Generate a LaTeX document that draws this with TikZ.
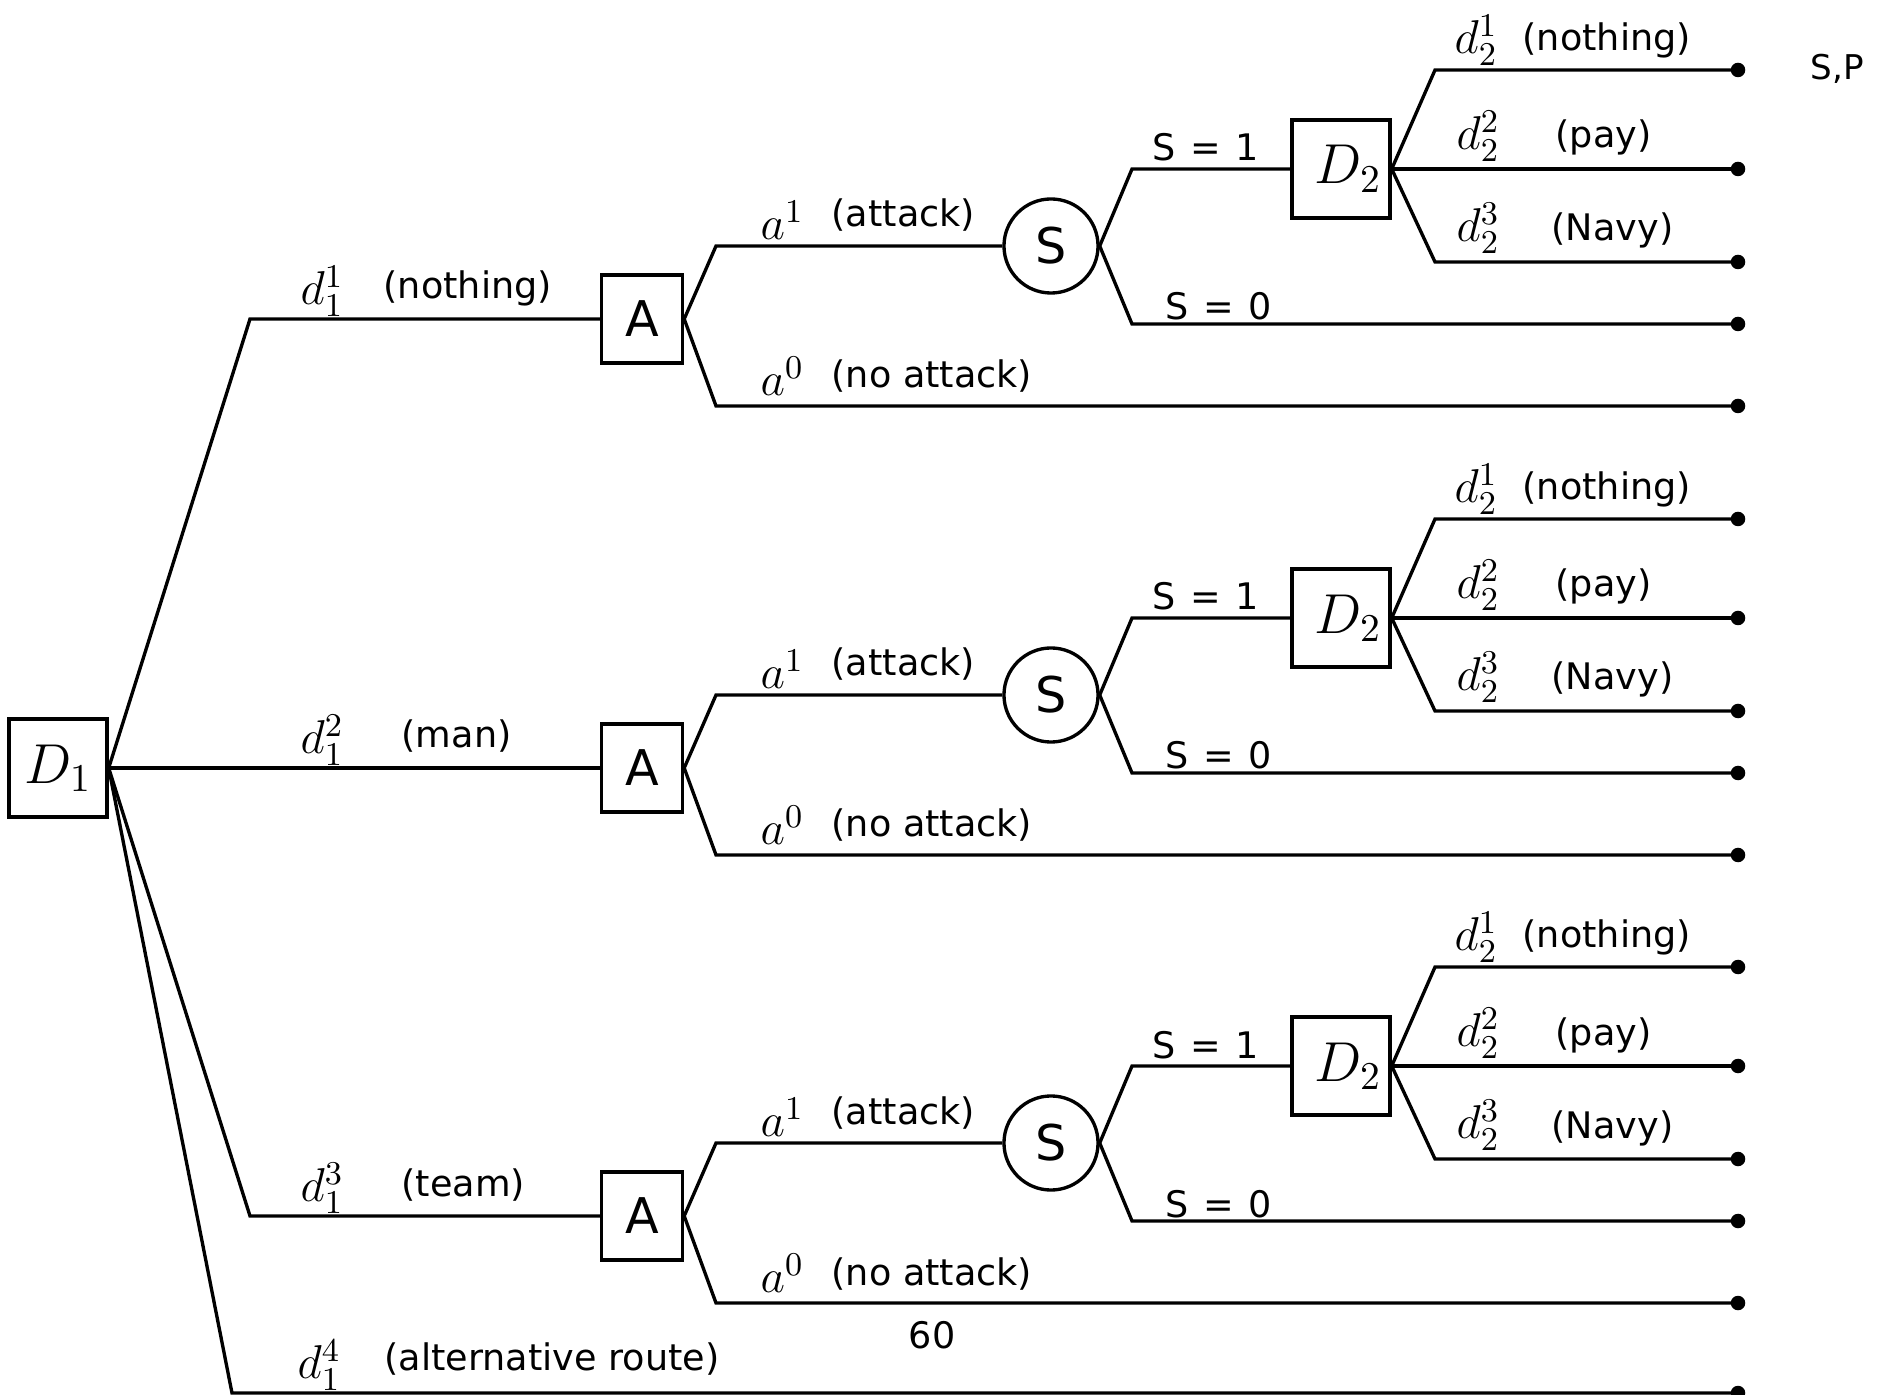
\RequirePackage{fix-cm}
\documentclass[tikz,border=0pt]{standalone}
\usepackage[no-math]{fontspec}
\setmainfont{DejaVu Sans}

\tikzset{
  decbox/.style={draw, line width=0.95pt, minimum size=0.98cm, inner sep=0pt, font=\fontsize{16}{18}\selectfont},
  agentbox/.style={draw, line width=0.95pt, minimum width=0.81cm, minimum height=0.88cm, inner sep=0pt, font=\fontsize{14}{16}\selectfont},
  chance/.style={draw, circle, line width=0.95pt, minimum size=0.94cm, inner sep=0pt, font=\fontsize{14}{16}\selectfont},
  leaf/.style={circle, fill, inner sep=0pt, minimum size=0.145cm},
  branch/.style={line width=0.95pt},
  lbl/.style={anchor=base west, inner sep=0pt, font=\fontsize{10.4}{12}\selectfont},
  mlbl/.style={anchor=west, inner sep=0pt, font=\fontsize{13.5}{15}\selectfont}
}
\newcommand{\sval}[1]{S\hspace{0.4em}=\hspace{0.4em}#1}

\begin{document}
\begin{tikzpicture}[x=0.01cm, y=-0.01cm]
\useasboundingbox (0,0) rectangle (1888,1395);

% first decision
\node[decbox] (D1) at (58,768) {$D_1$};

% one attacker / sensor / second decision subtree per first choice
\foreach \i/\y/\act/\ax in {1/319/{(nothing)}/383, 2/768/{(man)}/401, 3/1216/{(team)}/401} {
  \node[agentbox] (A\i) at (642,\y) {A};
  \node[chance] (S\i) at (1051,\y-73) {S};
  \node[decbox] (E\i) at (1341,\y-150) {\hspace{0.14cm}$D_2$};

  \node[leaf] (L\i1) at (1738,\y-249) {};
  \node[leaf] (L\i2) at (1738,\y-150) {};
  \node[leaf] (L\i3) at (1738,\y-57) {};
  \node[leaf] (L\i4) at (1738,\y+5) {};
  \node[leaf] (L\i5) at (1738,\y+87) {};

  \draw[branch] (D1.east) -- (250,\y) -- (A\i);
  \draw[branch] (A\i.east) -- (716,\y-73) -- (S\i);
  \draw[branch] (A\i.east) -- (716,\y+87) -- (L\i5.center);
  \draw[branch] (S\i.east) -- (1132,\y-150) -- (E\i);
  \draw[branch] (S\i.east) -- (1132,\y+5) -- (L\i4.center);
  \draw[branch] (E\i.east) -- (1435,\y-249) -- (L\i1.center);
  \draw[branch] (E\i.east) -- (L\i2.center);
  \draw[branch] (E\i.east) -- (1435,\y-57) -- (L\i3.center);

  \node[mlbl] (dl\i) at (300,\y-28) {$d_1^{\i}$};
  \node[lbl] (dt\i) at (\ax,\y-20) {\act};
  \node[mlbl] (al\i) at (760,\y-99) {$a^1$};
  \node[lbl] (at\i) at (831,\y-92) {(attack)};
  \node[mlbl] (bl\i) at (760,\y+57) {$a^0$};
  \node[lbl] (bt\i) at (831,\y+69) {(no attack)};
  \node[lbl] (sa\i) at (1152,\y-158) {\sval{1}};
  \node[lbl] (sb\i) at (1165,\y+1) {\sval{0}};
  \node[mlbl] (ea\i) at (1454,\y-279) {$d_2^1$};
  \node[lbl] (eat\i) at (1522,\y-268) {(nothing)};
  \node[mlbl] (eb\i) at (1456,\y-183) {$d_2^2$};
  \node[lbl] (ebt\i) at (1555,\y-171) {(pay)};
  \node[mlbl] (ec\i) at (1456,\y-91) {$d_2^3$};
  \node[lbl] (ect\i) at (1551,\y-78) {(Navy)};
}

% the fourth choice ends straight away
\node[leaf] (L4) at (1738,1393) {};
\draw[branch] (D1.east) -- (232,1393) -- (L4.center);
\node[mlbl] (dl4) at (297,1365) {$d_1^4$};
\node[lbl] (dt4) at (384,1370) {(alternative route)};

\node[lbl, font=\fontsize{9.7}{12}\selectfont] (sp) at (1810,80) {S,P};
\node[lbl, anchor=base] (pg) at (932,1348) {60};
\end{tikzpicture}
\end{document}
